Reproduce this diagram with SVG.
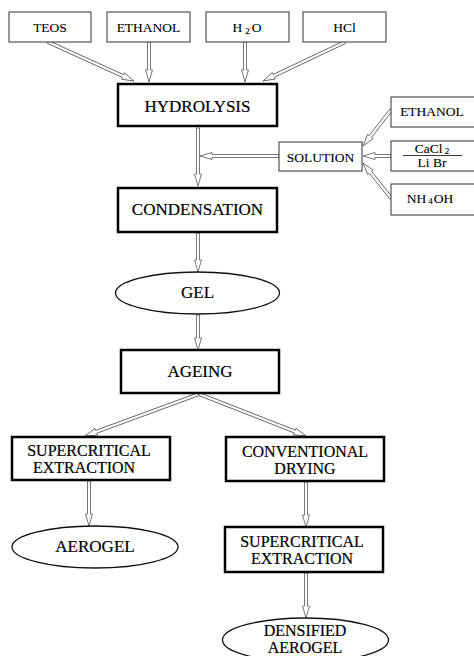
<svg xmlns="http://www.w3.org/2000/svg" width="474" height="656" viewBox="0 0 474 656">
<style>
text{font-family:"Liberation Serif","Times New Roman",serif;fill:#000;stroke:#000;stroke-width:0.2;text-anchor:middle}
.s{font-size:13.5px;stroke-width:0.1}
.m{font-size:17px}
.t{font-size:16px}
.bx{fill:#fff;stroke:#333;stroke-width:1}
.bb{fill:#fff;stroke:#000;stroke-width:2.5}
.el{fill:#fff;stroke:#111;stroke-width:1.3}
.ar{fill:#fff;stroke:#555;stroke-width:0.8}
</style>
<rect width="474" height="656" fill="#fff"/>
<g id="connectors">
<path class="ar" transform="translate(48,42) rotate(24.4)" d="M0,-1.5H82.4V-3.5L94.4,0L82.4,3.5V1.5H0Z"/>
<path class="ar" transform="translate(149,42) rotate(90)" d="M0,-1.5H28V-3.5L40,0L28,3.5V1.5H0Z"/>
<path class="ar" transform="translate(245,42) rotate(90)" d="M0,-1.5H28V-3.5L40,0L28,3.5V1.5H0Z"/>
<path class="ar" transform="translate(345,42) rotate(154.6)" d="M0,-1.5H78.8V-3.5L90.8,0L78.8,3.5V1.5H0Z"/>
<path class="ar" transform="translate(198,128) rotate(90)" d="M0,-1.5H46V-3.5L58,0L46,3.5V1.5H0Z"/>
<path class="ar" transform="translate(279,156) rotate(180)" d="M0,-1.5H67V-3.5L79,0L67,3.5V1.5H0Z"/>
<path class="ar" transform="translate(391,110) rotate(127.9)" d="M0,-1.5H33.6V-3.5L45.6,0L33.6,3.5V1.5H0Z"/>
<path class="ar" transform="translate(391,156) rotate(180)" d="M0,-1.5H16V-3.5L28,0L16,3.5V1.5H0Z"/>
<path class="ar" transform="translate(391,198) rotate(231.3)" d="M0,-1.5H32.8V-3.5L44.8,0L32.8,3.5V1.5H0Z"/>
<path class="ar" transform="translate(198,233) rotate(90)" d="M0,-1.5H27V-3.5L39,0L27,3.5V1.5H0Z"/>
<path class="ar" transform="translate(198,315) rotate(90)" d="M0,-1.5H23V-3.5L35,0L23,3.5V1.5H0Z"/>
<path class="ar" transform="translate(199,394) rotate(159.8)" d="M0,-1.5H109.5V-3.5L121.5,0L109.5,3.5V1.5H0Z"/>
<path class="ar" transform="translate(199,394) rotate(21.4)" d="M0,-1.5H102.9V-3.5L114.9,0L102.9,3.5V1.5H0Z"/>
<path class="ar" transform="translate(89,481) rotate(90)" d="M0,-1.5H33V-3.5L45,0L33,3.5V1.5H0Z"/>
<path class="ar" transform="translate(306,482) rotate(90)" d="M0,-1.5H33V-3.5L45,0L33,3.5V1.5H0Z"/>
<path class="ar" transform="translate(306,573) rotate(90)" d="M0,-1.5H33V-3.5L45,0L33,3.5V1.5H0Z"/>
</g>
<g id="teos"><rect class="bx" x="9" y="12" width="82" height="30"/><text class="s" x="50" y="32">TEOS</text></g>
<g id="ethanol1"><rect class="bx" x="107" y="12" width="83" height="30"/><text class="s" x="148.5" y="32">ETHANOL</text></g>
<g id="h2o"><rect class="bx" x="206" y="12" width="83" height="30"/><text class="s" x="247" y="32">H<tspan font-size="9" dx="3" dy="2">2</tspan><tspan dx="2" dy="-2">O</tspan></text></g>
<g id="hcl"><rect class="bx" x="303" y="12" width="83" height="30"/><text class="s" x="344.5" y="32">HCl</text></g>
<g id="hydrolysis"><rect class="bb" x="118" y="84" width="159" height="42"/><text class="m" x="197.5" y="112">HYDROLYSIS</text></g>
<g id="solution"><rect class="bx" x="279" y="142" width="83" height="29"/><text class="s" x="320.5" y="162">SOLUTION</text></g>
<g id="ethanol2"><rect class="bx" x="391" y="97" width="90" height="30"/><text class="s" x="432" y="116">ETHANOL</text></g>
<g id="salts"><rect class="bx" x="391" y="141" width="90" height="30"/><text class="s" x="432" y="153">CaCl<tspan font-size="9" dx="2" dy="1">2</tspan></text><line x1="403" y1="155.5" x2="462" y2="155.5" stroke="#222" stroke-width="0.9"/><text class="s" x="432" y="167">Li Br</text></g>
<g id="nh4oh"><rect class="bx" x="391" y="184" width="90" height="31"/><text class="s" x="430" y="203">NH<tspan font-size="9" dx="2" dy="1">4</tspan><tspan dx="1" dy="-1">OH</tspan></text></g>
<g id="condensation"><rect class="bb" x="118" y="188" width="159" height="44"/><text class="m" x="197.5" y="215">CONDENSATION</text></g>
<g id="gel"><ellipse class="el" cx="197.5" cy="293" rx="82" ry="21"/><text class="m" x="197.5" y="298">GEL</text></g>
<g id="ageing"><rect class="bb" x="121" y="350" width="158" height="43"/><text class="m" x="200" y="377">AGEING</text></g>
<g id="sc1"><rect class="bb" x="12" y="437" width="158" height="43"/><text class="t" x="89" y="456">SUPERCRITICAL</text><text class="t" x="84" y="473">EXTRACTION</text></g>
<g id="conv"><rect class="bb" x="226" y="437" width="158" height="44"/><text class="t" x="305" y="457">CONVENTIONAL</text><text class="t" x="305" y="474">DRYING</text></g>
<g id="aerogel"><ellipse class="el" cx="95" cy="547" rx="83" ry="21"/><text class="m" x="95" y="552">AEROGEL</text></g>
<g id="sc2"><rect class="bb" x="225" y="527" width="158" height="45"/><text class="t" x="302" y="547">SUPERCRITICAL</text><text class="t" x="302" y="564">EXTRACTION</text></g>
<g id="densified"><ellipse class="el" cx="305.5" cy="640" rx="83" ry="22"/><text class="t" x="305" y="636">DENSIFIED</text><text class="t" x="305" y="653">AEROGEL</text></g>
</svg>
